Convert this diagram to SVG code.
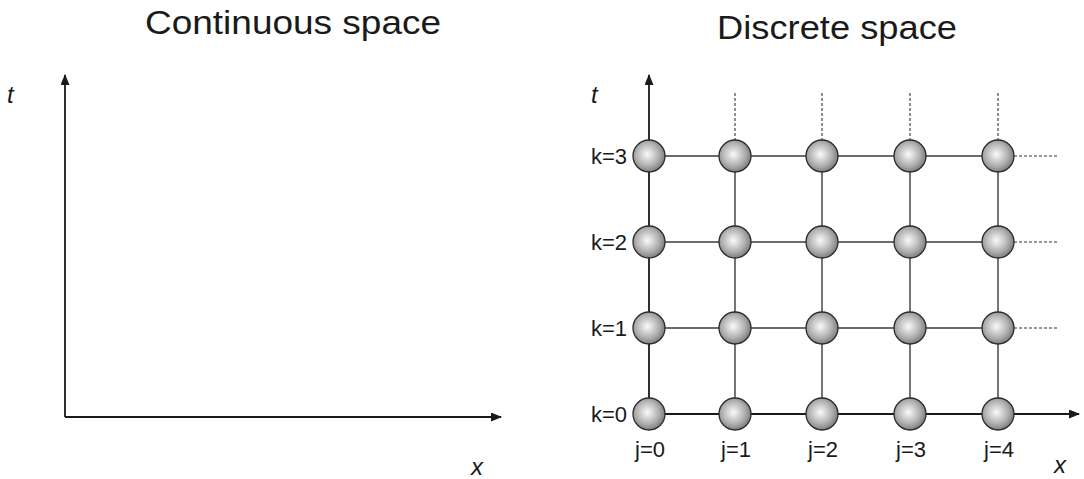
<svg xmlns="http://www.w3.org/2000/svg" width="1084" height="479" viewBox="0 0 1084 479">
<style>
.title{font-family:"Liberation Sans",Arial,sans-serif;font-size:34px;fill:#1a1a1a;text-anchor:middle}
.lab{font-family:"Liberation Sans",Arial,sans-serif;font-size:22px;fill:#1a1a1a}
.it{font-family:"Liberation Sans",Arial,sans-serif;font-size:24px;font-style:italic;fill:#1a1a1a}
.axis{stroke:#1a1a1a;stroke-width:1.8;fill:none}
.grid{stroke:#3a3a3a;stroke-width:1.4;fill:none}
.dash{stroke:#333;stroke-width:1.1;stroke-dasharray:3 2;fill:none}
.ball{fill:url(#g);stroke:#2a2a2a;stroke-width:1.3}
</style>
<defs>
<marker id="arr" markerWidth="11" markerHeight="9" refX="10" refY="4.5" orient="auto" markerUnits="userSpaceOnUse">
<path d="M0,0 L11,4.5 L0,9 Z" fill="#1a1a1a"/>
</marker>
<radialGradient id="g" cx="0.45" cy="0.45" r="0.6">
<stop offset="0" stop-color="#fafafa"/>
<stop offset="0.6" stop-color="#b0b0b0"/>
<stop offset="1" stop-color="#737373"/>
</radialGradient>
</defs>
<rect width="1084" height="479" fill="#fff"/>
<text class="title" x="293" y="34" textLength="296" lengthAdjust="spacingAndGlyphs">Continuous space</text>
<text class="title" x="837" y="39" textLength="240" lengthAdjust="spacingAndGlyphs">Discrete space</text>
<g id="continuous-axes">
<line class="axis" x1="65" y1="417" x2="65" y2="75" marker-end="url(#arr)"/>
<line class="axis" x1="65" y1="417" x2="501" y2="417" marker-end="url(#arr)"/>
<text class="it" x="7" y="103">t</text>
<text class="it" x="471" y="475">x</text>
</g>
<g id="connectors">
<line class="axis" x1="649" y1="414" x2="649" y2="75" marker-end="url(#arr)"/>
<line class="axis" x1="649" y1="414" x2="1079" y2="414" marker-end="url(#arr)"/>
<line class="grid" x1="649" y1="156" x2="998" y2="156"/>
<line class="grid" x1="649" y1="242" x2="998" y2="242"/>
<line class="grid" x1="649" y1="328" x2="998" y2="328"/>
<line class="grid" x1="735" y1="156" x2="735" y2="414"/>
<line class="grid" x1="822" y1="156" x2="822" y2="414"/>
<line class="grid" x1="910" y1="156" x2="910" y2="414"/>
<line class="grid" x1="998" y1="156" x2="998" y2="414"/>
<line class="dash" x1="735" y1="93" x2="735" y2="140"/>
<line class="dash" x1="822" y1="93" x2="822" y2="140"/>
<line class="dash" x1="910" y1="93" x2="910" y2="140"/>
<line class="dash" x1="998" y1="93" x2="998" y2="140"/>
<line class="dash" x1="1014" y1="156" x2="1058" y2="156"/>
<line class="dash" x1="1014" y1="242" x2="1058" y2="242"/>
<line class="dash" x1="1014" y1="328" x2="1058" y2="328"/>
</g>
<g id="nodes">
<circle class="ball" cx="649" cy="156" r="16"/><circle class="ball" cx="735" cy="156" r="16"/><circle class="ball" cx="822" cy="156" r="16"/><circle class="ball" cx="910" cy="156" r="16"/><circle class="ball" cx="998" cy="156" r="16"/>
<circle class="ball" cx="649" cy="242" r="16"/><circle class="ball" cx="735" cy="242" r="16"/><circle class="ball" cx="822" cy="242" r="16"/><circle class="ball" cx="910" cy="242" r="16"/><circle class="ball" cx="998" cy="242" r="16"/>
<circle class="ball" cx="649" cy="328" r="16"/><circle class="ball" cx="735" cy="328" r="16"/><circle class="ball" cx="822" cy="328" r="16"/><circle class="ball" cx="910" cy="328" r="16"/><circle class="ball" cx="998" cy="328" r="16"/>
<circle class="ball" cx="649" cy="414" r="16"/><circle class="ball" cx="735" cy="414" r="16"/><circle class="ball" cx="822" cy="414" r="16"/><circle class="ball" cx="910" cy="414" r="16"/><circle class="ball" cx="998" cy="414" r="16"/>
</g>
<g id="labels">
<text class="it" x="591" y="103">t</text>
<text class="it" x="1054" y="473">x</text>
<text class="lab" x="627" y="164" text-anchor="end">k=3</text>
<text class="lab" x="627" y="250" text-anchor="end">k=2</text>
<text class="lab" x="627" y="336" text-anchor="end">k=1</text>
<text class="lab" x="627" y="422" text-anchor="end">k=0</text>
<text class="lab" x="650" y="457" text-anchor="middle">j=0</text>
<text class="lab" x="736" y="457" text-anchor="middle">j=1</text>
<text class="lab" x="823" y="457" text-anchor="middle">j=2</text>
<text class="lab" x="911" y="457" text-anchor="middle">j=3</text>
<text class="lab" x="999" y="457" text-anchor="middle">j=4</text>
</g>
</svg>
